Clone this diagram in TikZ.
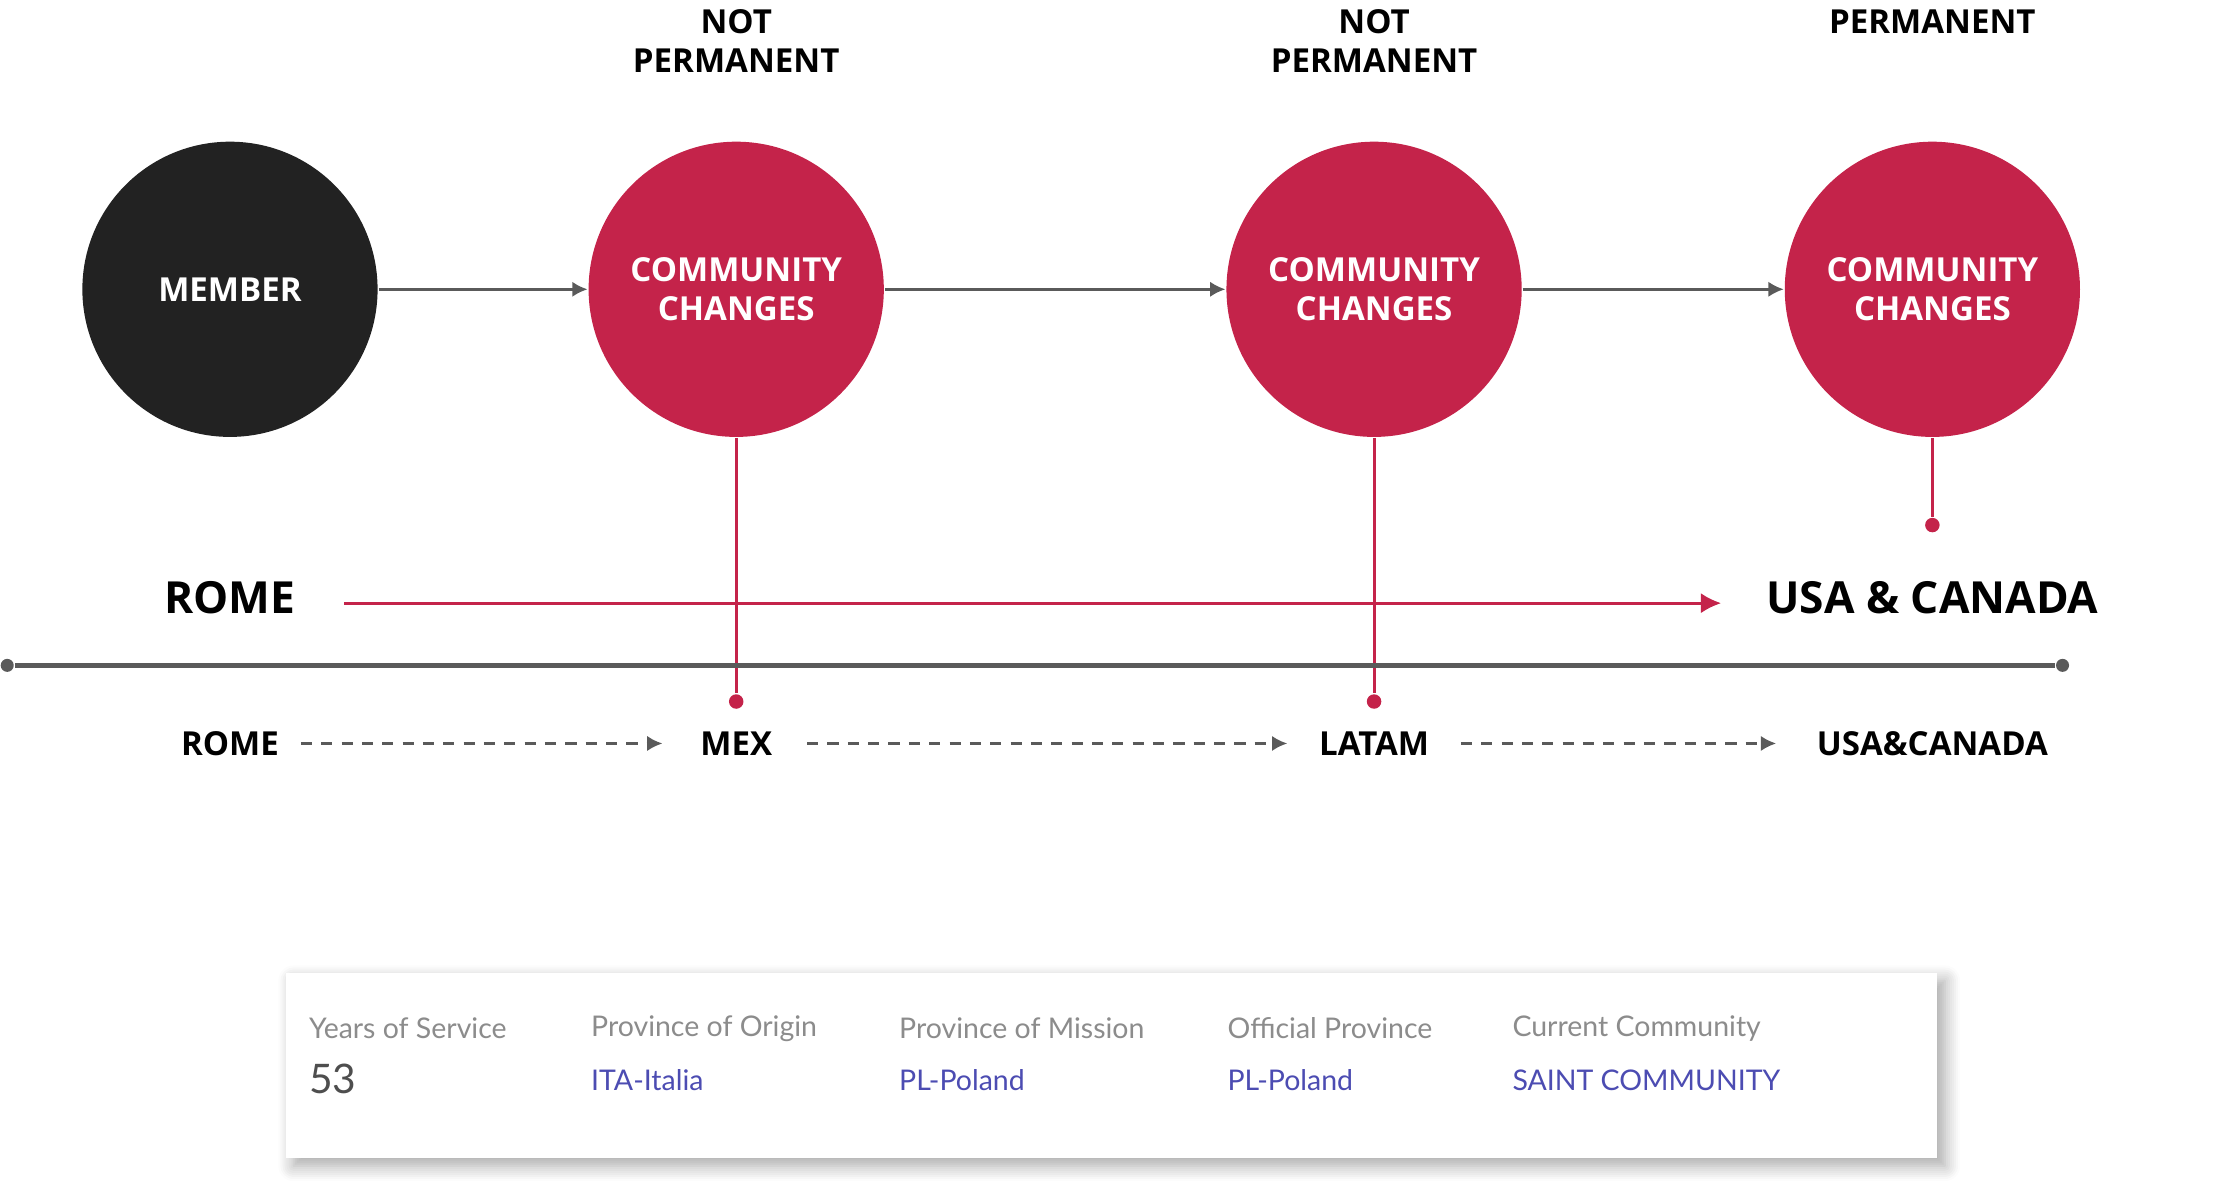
\documentclass[tikz,border=0pt]{standalone}
\usepackage{fontspec}
\setmainfont{Open Sans}
\newfontfamily\cardfont{Lato}
\usetikzlibrary{arrows.meta,shadows.blur}
\definecolor{crim}{HTML}{C4234A}
\definecolor{dark}{HTML}{222222}
\definecolor{lgray}{HTML}{5A5A5A}
\begin{document}
\begin{tikzpicture}[x=0.01cm,y=-0.01cm,
  circ/.style={circle,minimum size=2.04cm,inner sep=0pt,text=white,font=\fontsize{6.5}{7.8}\selectfont\bfseries,align=center},
  top/.style={font=\fontsize{6.5}{7.8}\selectfont\bfseries,align=center,anchor=north},
  big/.style={font=\fontsize{8.7}{10}\selectfont\bfseries},
  lab/.style={font=\fontsize{6.5}{8}\selectfont\bfseries},
  garr/.style={draw=lgray,line width=0.5pt,-{Latex[length=3pt,width=3pt]}},
  darr/.style={draw=lgray,line width=0.5pt,dash pattern=on 2.2pt off 1.8pt,-{Latex[length=3pt,width=3pt]}},
  rl/.style={draw=crim,line width=0.6pt},
  dot/.style={circle,fill=#1,inner sep=0pt,minimum size=0.1cm},
  hd/.style={font=\cardfont\fontsize{5.6}{7}\selectfont,text=gray!90,anchor=west,inner sep=0pt},
  vl/.style={font=\cardfont\fontsize{5.6}{7}\selectfont,text=blue!40!gray,anchor=west,inner sep=0pt}]
\useasboundingbox (0,0) rectangle (1548,820);
\node[circ,fill=dark] (m) at (159,200) {MEMBER};
\node[circ,fill=crim] (c1) at (509,200) {COMMUNITY\\CHANGES};
\node[circ,fill=crim] (c2) at (950,200) {COMMUNITY\\CHANGES};
\node[circ,fill=crim] (c3) at (1336,200) {COMMUNITY\\CHANGES};
\node[top] (t1) at (509,-6) {NOT\\PERMANENT};
\node[top] (t2) at (950,-6) {NOT\\PERMANENT};
\node[top] (t3) at (1336,-6) {PERMANENT};
\draw[garr] (m) -- (c1);
\draw[garr] (c1) -- (c2);
\draw[garr] (c2) -- (c3);
\node[dot=crim] (d1) at (509,485) {};
\node[dot=crim] (d2) at (950,485) {};
\node[dot=crim] (d3) at (1336,363) {};
\draw[rl] (c1) -- (d1);
\draw[rl] (c2) -- (d2);
\draw[rl] (c3) -- (d3);
\node[big] (r) at (159,413) {ROME};
\node[big] (u) at (1336,413) {USA \& CANADA};
\coordinate (ra) at (238,417);
\coordinate (rb) at (1190,417);
\draw[rl,-{Latex[length=4pt,width=4pt]}] (ra) -- (rb);
\node[dot=lgray,minimum size=0.09cm] (g1) at (5,460) {};
\node[dot=lgray,minimum size=0.09cm] (g2) at (1426,460) {};
\draw[draw=lgray,line width=0.9pt] (g1) -- (g2);
\node[lab] (b1) at (159,514) {ROME};
\node[lab] (b2) at (509,514) {MEX};
\node[lab] (b3) at (950,514) {LATAM};
\node[lab] (b4) at (1336,514) {USA\&CANADA};
\coordinate (e1) at (208,514); \coordinate (f1) at (458,514);
\coordinate (e2) at (558,514); \coordinate (f2) at (890,514);
\coordinate (e3) at (1010,514); \coordinate (f3) at (1228,514);
\draw[darr] (e1) -- (f1);
\draw[darr] (e2) -- (f2);
\draw[darr] (e3) -- (f3);
\node[fill=white,blur shadow={shadow xshift=1.5pt,shadow yshift=-1.5pt,shadow blur steps=8,shadow blur radius=3pt,shadow opacity=35},minimum width=11.41cm,minimum height=1.28cm,anchor=north west] (card) at (197,672) {};
\node[hd] (h1) at (213,711) {Years of Service};
\node[hd] (h2) at (408,711) {Province of Origin};
\node[hd] (h3) at (621,711) {Province of Mission};
\node[hd] (h4) at (848,711) {Official Province};
\node[hd] (h5) at (1045,711) {Current Community};
\node[hd,font=\cardfont\fontsize{8}{9}\selectfont,text=dark!80] (v1) at (213,746) {53};
\node[vl] (v2) at (408,747) {ITA-Italia};
\node[vl] (v3) at (621,747) {PL-Poland};
\node[vl] (v4) at (848,747) {PL-Poland};
\node[vl] (v5) at (1045,747) {SAINT COMMUNITY};
\end{tikzpicture}
\end{document}
